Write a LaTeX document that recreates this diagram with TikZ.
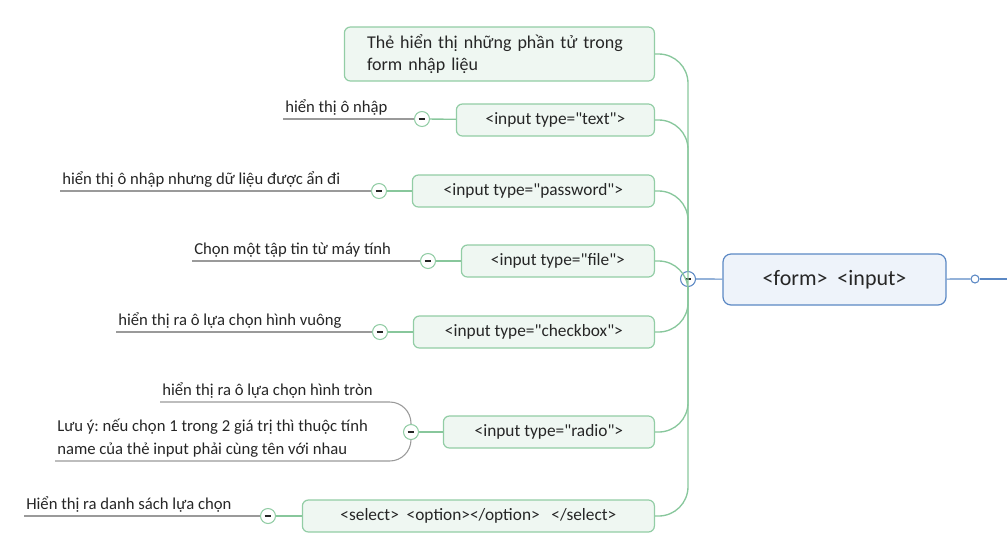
\documentclass[tikz,border=0pt]{standalone}
\usepackage{fontspec}
\setmainfont{Carlito}[Ligatures=TeXOff]
\frenchspacing
\definecolor{ink}{HTML}{262626}
\definecolor{boxgreen}{HTML}{92CDA5}
\definecolor{fillgreen}{HTML}{EFF7F2}
\definecolor{linegreen}{HTML}{88C79C}
\definecolor{boxblue}{HTML}{5B88C4}
\definecolor{fillblue}{HTML}{EEF3FA}
\definecolor{twiggray}{HTML}{9A9A9A}

\begin{document}
\begin{tikzpicture}[x=0.75pt, y=-0.75pt,
  topic/.style={draw=boxgreen, fill=fillgreen, rounded corners=4.5pt, line width=0.9pt,
    anchor=east, minimum height=24pt, font=\fontsize{13}{15}\selectfont, text=ink},
  rootbox/.style={draw=boxblue, fill=fillblue, rounded corners=6pt, line width=0.9pt,
    minimum width=167.25pt, minimum height=38.25pt, font=\fontsize{16.5}{18}\selectfont, text=ink},
  knob/.style={circle, draw=boxgreen, fill=white, line width=0.8pt, minimum size=11.25pt, inner sep=0pt,
    path picture={\draw[line width=0.9pt, ink] ([xshift=-2.6pt]path picture bounding box.center)
      -- ([xshift=2.6pt]path picture bounding box.center);}},
  leaf/.style={anchor=south west, inner xsep=1.5pt, inner ysep=1.5pt, text depth=3pt,
    font=\fontsize{12.5}{17.25}\selectfont, text=ink},
  trunk/.style={draw=linegreen, line width=1pt, rounded corners=22pt},
  twig/.style={draw=linegreen, line width=1pt},
  leafline/.style={draw=twiggray, line width=0.8pt},
  blueline/.style={draw=boxblue, line width=0.9pt}]
\useasboundingbox (0,0) rectangle (1007,544);

% Central topic
\node[rootbox] (form) at (834.5,279.5) {<form>\ \ <input>};
\node[knob, draw=boxblue] (hub) at (688,279) {};
\node[circle, draw=boxblue, fill=white, line width=0.8pt, minimum size=6pt, inner sep=0pt] (dot) at (975,279) {};
\coordinate (edge) at (1007,279);

% Subtopics
\node[topic, minimum width=232.5pt, minimum height=40.5pt, inner xsep=17pt, text width=198.5pt,
  align=left, font=\fontsize{13.5}{16.5}\selectfont] (intro) at (655,54)
  {Thẻ hiển thị những phần tử trong\\form nhập liệu};
\node[topic, minimum width=148.5pt] (text) at (655,120) {<input type="text">};
\node[topic, minimum width=181.5pt] (pass) at (655,191) {<input type="password">};
\node[topic, minimum width=144.75pt] (file) at (655,261) {<input type="file">};
\node[topic, minimum width=180.75pt] (check) at (655,332) {<input type="checkbox">};
\node[topic, minimum width=158.25pt] (radio) at (655,432) {<input type="radio">};
\node[topic, minimum width=264pt] (select) at (655,516) {<select>\ \ <option></option>\ \ \ </select>};

% Knobs
\node[knob] (ktext) at (422,119) {};
\node[knob] (kpass) at (379,191) {};
\node[knob] (kfile) at (428,261) {};
\node[knob] (kcheck) at (380,332) {};
\node[knob] (kradio) at (411,432) {};
\node[knob] (kselect) at (268,516) {};

% Notes
\node[leaf] (ntext) at (283,119) {hiển thị ô nhập};
\node[leaf] (npass) at (60,191) {hiển thị ô nhập nhưng dữ liệu được ẩn đi};
\node[leaf] (nfile) at (192,261) {Chọn một tập tin từ máy tính};
\node[leaf] (ncheck) at (116,332) {hiển thị ra ô lựa chọn hình vuông};
\node[leaf] (nradio) at (160,402) {hiển thị ra ô lựa chọn hình tròn};
\node[leaf, align=left] (nnote) at (55,461)
  {Lưu ý: nếu chọn 1 trong 2 giá trị thì thuộc tính\\name của thẻ input phải cùng tên với nhau};
\node[leaf] (nselect) at (24,516) {Hiển thị ra danh sách lựa chọn};

% Draw trunk
\foreach \t in {intro,text,pass,file,check,radio,select}
  \draw[trunk] (\t.east) -| (hub);
\draw[blueline] (hub) -- (form);
\draw[blueline] (form) -- (dot);
\draw[blueline] (dot) -- (edge);

% Draw twigs
\foreach \t/\k in {text/ktext,pass/kpass,file/kfile,check/kcheck,radio/kradio,select/kselect}
  \draw[twig] (\t) -- (\k);
\foreach \k/\n in {ktext/ntext,kpass/npass,kfile/nfile,kcheck/ncheck,kselect/nselect}
  \draw[leafline] (\k) -- (\n.south west);
\draw[leafline, rounded corners=16pt] (kradio.north) |- (nradio.south west);
\draw[leafline, rounded corners=16pt] (kradio.south) |- (nnote.south west);
\end{tikzpicture}
\end{document}
